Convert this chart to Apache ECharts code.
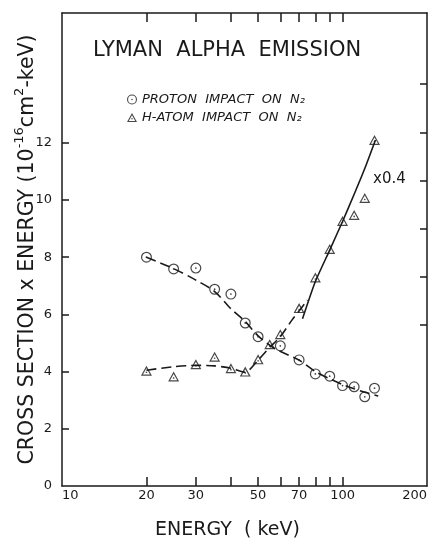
<!DOCTYPE html>
<html>
<head>
<meta charset="utf-8">
<script src="https://cdn.jsdelivr.net/npm/echarts@6/dist/echarts.min.js"></script>
<style>
  html, body { margin: 0; padding: 0; background: #fff; }
  #main { width: 428px; height: 539px; }
</style>
</head>
<body>
<div id="main"></div>
<script>
// measured points (energy keV, cross section x energy)
var protonE = [20, 25, 30, 35, 40, 45, 50, 60, 70, 80, 90, 100, 110, 120, 130];
var protonV = [8.0, 7.59, 7.62, 6.88, 6.71, 5.70, 5.22, 4.90, 4.41, 3.92, 3.84, 3.51, 3.47, 3.12, 3.42];

var hatomE = [20, 25, 30, 35, 40, 45, 50, 55, 60, 70, 80, 90, 100, 110, 120, 130];
var hatomV = [4.03, 3.83, 4.26, 4.52, 4.12, 4.00, 4.43, 4.96, 5.31, 6.22, 7.29, 8.29, 9.27, 9.48, 10.07, 12.1];

// hand drawn curves
var protonFitE = [20, 25, 30, 35, 40, 45, 50, 57.5, 70, 80, 90, 100, 110, 120, 134];
var protonFitV = [8.0, 7.6, 7.2, 6.8, 6.2, 5.75, 5.25, 4.8, 4.4, 4.0, 3.75, 3.55, 3.4, 3.28, 3.15];

var hatomFitE = [20, 25, 30, 35, 40, 45, 50, 55, 60, 66, 75];
var hatomFitV = [4.05, 4.17, 4.22, 4.2, 4.12, 3.98, 4.4, 4.85, 5.22, 5.8, 6.5];

var hatomSolidE = [72, 80, 90, 100, 110, 120, 131];
var hatomSolidV = [5.85, 7.15, 8.25, 9.25, 10.2, 11.1, 12.1];

// ticks
var xLabels = [10, 20, 30, 50, 70, 100, 200];
var xTicks = [20, 30, 40, 50, 60, 70, 80, 90, 100];
var yLabels = [0, 2, 4, 6, 8, 10, 12];
var yTicks = [2, 4, 6, 8, 10, 12];
var rightTicks = [5.63, 7.31, 8.99, 10.66, 12.34, 14.06];
var yMax = 16.54;

var names = ['PROTON  IMPACT  ON  N\u2082', 'H-ATOM  IMPACT  ON  N\u2082'];

var ink = '#1a1a1a';
var circleSym = 'path://M10,0 A10,10 0 1,1 10,20 A10,10 0 1,1 10,0 Z M10,2.2 A7.8,7.8 0 1,0 10,17.8 A7.8,7.8 0 1,0 10,2.2 Z M10,8.4 A1.6,1.6 0 1,1 10,11.6 A1.6,1.6 0 1,1 10,8.4 Z';
var triSym = 'path://M10,0 L20,18 L0,18 Z M10,4.6 L3.6,15.9 L16.4,15.9 Z M10,10.2 A1.5,1.5 0 1,1 10,13.2 A1.5,1.5 0 1,1 10,10.2 Z';

function pairs(xs, ys) {
    var out = [];
    for (var i = 0; i < xs.length; i++) out.push([xs[i], ys[i]]);
    return out;
}

var chart = echarts.init(document.getElementById('main'));

var tickStyle = { inside: true, length: 9, customValues: xTicks, lineStyle: { color: ink, width: 1.5 } };

var option = {
    backgroundColor: '#fff',
    animation: false,
    textStyle: { fontFamily: 'DejaVu Sans', color: ink },
    title: {
        text: 'LYMAN  ALPHA  EMISSION',
        left: 88,
        top: 35,
        textStyle: { fontSize: 21, fontWeight: 'normal', color: ink, fontFamily: 'DejaVu Sans' }
    },
    legend: {
        data: [
            { name: names[0], icon: circleSym },
            { name: names[1], icon: triSym }
        ],
        orient: 'vertical',
        left: 122,
        top: 88,
        itemWidth: 10,
        itemHeight: 10,
        itemGap: 5,
        textStyle: { fontSize: 13, fontStyle: 'italic', color: ink }
    },
    grid: { left: 62, right: 1, top: 13, bottom: 53, outerBoundsMode: 'none' },
    xAxis: [{
        type: 'log',
        logBase: 10,
        min: 10,
        max: 200,
        name: 'ENERGY  ( keV)',
        nameLocation: 'middle',
        nameGap: 35,
        nameTextStyle: { fontSize: 19, color: ink, padding: [0, 34, 0, 0] },
        axisLine: { show: true, onZero: false, lineStyle: { color: ink, width: 1.5 } },
        axisTick: tickStyle,
        axisLabel: {
            customValues: xLabels, margin: 3, fontSize: 13, color: ink,
            alignMinLabel: 'left', alignMaxLabel: 'right'
        },
        splitLine: { show: false }
    }, {
        type: 'log',
        logBase: 10,
        min: 10,
        max: 200,
        position: 'top',
        axisLine: { show: true, onZero: false, lineStyle: { color: ink, width: 1.5 } },
        axisTick: tickStyle,
        axisLabel: {
            show: true, customValues: xTicks, color: 'rgba(0,0,0,0)',
            formatter: function () { return ''; }
        },
        splitLine: { show: false }
    }],
    yAxis: [{
        type: 'value',
        min: 0,
        max: yMax,
        name: '{n|CROSS SECTION x ENERGY (10}{s|-16}{n|cm}{s|2}{n|-keV)}',
        nameLocation: 'middle',
        nameGap: 24,
        nameMoveOverlap: false,
        nameTextStyle: {
            color: ink,
            rich: {
                n: { fontSize: 20.5, color: ink, verticalAlign: 'bottom', lineHeight: 25 },
                s: { fontSize: 13, color: ink, verticalAlign: 'top', lineHeight: 25 }
            }
        },
        axisLine: { show: true, onZero: false, lineStyle: { color: ink, width: 1.5 } },
        axisTick: { inside: true, length: 7, customValues: yTicks, lineStyle: { color: ink, width: 1.5 } },
        axisLabel: { customValues: yLabels, margin: 10, fontSize: 13, color: ink },
        splitLine: { show: false }
    }, {
        type: 'value',
        min: 0,
        max: yMax,
        position: 'right',
        axisLine: { show: true, onZero: false, lineStyle: { color: ink, width: 1.5 } },
        axisTick: { inside: true, length: 7, customValues: rightTicks, lineStyle: { color: ink, width: 1.5 } },
        axisLabel: { show: false },
        splitLine: { show: false }
    }],
    graphic: [{
        type: 'text',
        left: 373,
        top: 172,
        style: { text: 'x0.4', fontSize: 15, fontFamily: 'DejaVu Sans', fill: ink }
    }],
    series: [{
        type: 'line',
        data: pairs(protonFitE, protonFitV),
        smooth: 0.3,
        showSymbol: false,
        silent: true,
        lineStyle: { color: ink, width: 1.6, type: [10, 5] },
        z: 1
    }, {
        type: 'line',
        data: pairs(hatomFitE, hatomFitV),
        smooth: 0.25,
        showSymbol: false,
        silent: true,
        lineStyle: { color: ink, width: 1.6, type: [10, 5] },
        z: 1
    }, {
        type: 'line',
        xAxisIndex: 1,
        data: pairs(hatomSolidE, hatomSolidV),
        smooth: 0.2,
        showSymbol: false,
        silent: true,
        lineStyle: { color: ink, width: 1.6 },
        z: 1
    }, {
        name: names[0],
        type: 'scatter',
        data: pairs(protonE, protonV),
        symbol: circleSym,
        symbolSize: 11,
        itemStyle: { color: ink },
        z: 3
    }, {
        name: names[1],
        type: 'scatter',
        data: pairs(hatomE, hatomV),
        symbol: triSym,
        symbolSize: [11, 10],
        itemStyle: { color: ink },
        z: 3
    }]
};

chart.setOption(option);
</script>
</body>
</html>
